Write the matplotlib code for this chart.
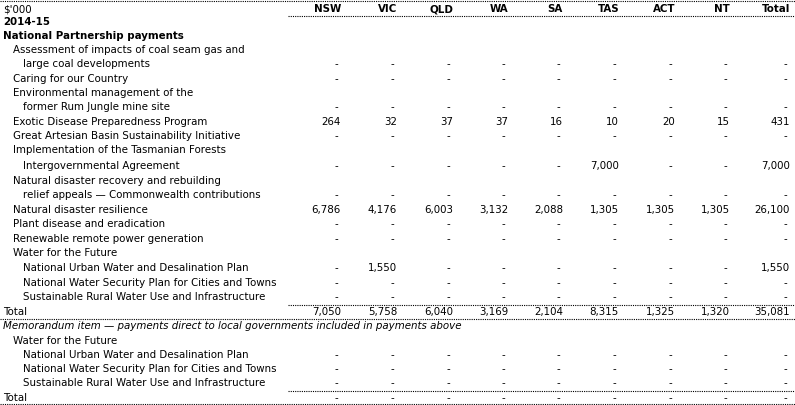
import matplotlib
matplotlib.use("Agg")
import matplotlib.pyplot as plt

columns = ["NSW", "VIC", "QLD", "WA", "SA", "TAS", "ACT", "NT", "Total"]
# (label, indent level, style, values or None)
D = ["-"] * 9
rows = [
    ("2014-15", 0, "bold", None),
    ("National Partnership payments", 0, "bold", None),
    ("Assessment of impacts of coal seam gas and", 1, "normal", None),
    ("large coal developments", 2, "normal", D),
    ("Caring for our Country", 1, "normal", D),
    ("Environmental management of the", 1, "normal", None),
    ("former Rum Jungle mine site", 2, "normal", D),
    ("Exotic Disease Preparedness Program", 1, "normal",
     ["264", "32", "37", "37", "16", "10", "20", "15", "431"]),
    ("Great Artesian Basin Sustainability Initiative", 1, "normal", D),
    ("Implementation of the Tasmanian Forests", 1, "normal", None),
    ("Intergovernmental Agreement", 2, "normal",
     ["-", "-", "-", "-", "-", "7,000", "-", "-", "7,000"]),
    ("Natural disaster recovery and rebuilding", 1, "normal", None),
    ("relief appeals \u2014 Commonwealth contributions", 2, "normal", D),
    ("Natural disaster resilience", 1, "normal",
     ["6,786", "4,176", "6,003", "3,132", "2,088", "1,305", "1,305", "1,305", "26,100"]),
    ("Plant disease and eradication", 1, "normal", D),
    ("Renewable remote power generation", 1, "normal", D),
    ("Water for the Future", 1, "normal", None),
    ("National Urban Water and Desalination Plan", 2, "normal",
     ["-", "1,550", "-", "-", "-", "-", "-", "-", "1,550"]),
    ("National Water Security Plan for Cities and Towns", 2, "normal", D),
    ("Sustainable Rural Water Use and Infrastructure", 2, "normal", D),
    ("Total", 0, "normal",
     ["7,050", "5,758", "6,040", "3,169", "2,104", "8,315", "1,325", "1,320", "35,081"]),
    ("Memorandum item \u2014 payments direct to local governments included in payments above", 0, "italic", None),
    ("Water for the Future", 1, "normal", None),
    ("National Urban Water and Desalination Plan", 2, "normal", D),
    ("National Water Security Plan for Cities and Towns", 2, "normal", D),
    ("Sustainable Rural Water Use and Infrastructure", 2, "normal", D),
    ("Total", 0, "normal", D),
]

col_right = [341, 397, 453, 508, 563, 619, 675, 730, 790]
y_rows = [22, 36, 50, 64, 79, 93, 107, 122, 136, 150, 166, 181, 195, 210,
          224, 239, 253, 268, 283, 297, 312, 326, 341, 355, 369, 383, 398]
indent = [3, 13, 23]

plt.rcParams["font.family"] = ["DejaVu Sans"]
fs = 7.4
fig = plt.figure(figsize=(7.95, 4.05), dpi=100)
ax = fig.add_axes([0, 0, 1, 1])
ax.set_xlim(0, 795); ax.set_ylim(405, 0); ax.axis("off")

def hline(y, x0, x1=795):
    ax.plot([x0, x1], [y, y], color="black", lw=0.8, ls=(0, (1, 1)))

hline(0.8, 0)
ax.text(3, 9, "$'000", fontsize=fs, va="center", ha="left")
for c, x in zip(columns, col_right):
    ax.text(x, 9, c, fontsize=fs, va="center", ha="right", fontweight="bold")
hline(16, 288)

for (lab, lvl, st, vals), y in zip(rows, y_rows):
    ax.text(indent[lvl], y, lab, fontsize=fs, va="center", ha="left",
            fontweight="bold" if st == "bold" else "normal",
            fontstyle="italic" if st == "italic" else "normal")
    if vals:
        for v, x in zip(vals, col_right):
            ax.text(x - (3 if v == "-" else 0), y, v, fontsize=fs, va="center", ha="right")

hline(304.5, 288); hline(319, 0)
hline(390.5, 288); hline(404, 0)

fig.savefig("out.png", dpi=100)
